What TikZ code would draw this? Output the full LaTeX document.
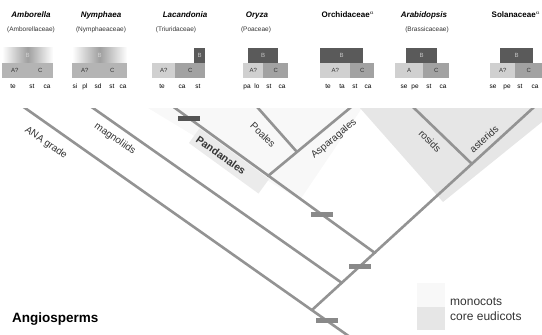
\documentclass[tikz,border=0pt]{standalone}
\usepackage{fontspec}
\setmainfont{Liberation Sans}
\setsansfont{Liberation Sans}
\usepackage{xcolor}
\definecolor{branchgray}{HTML}{939393}
\definecolor{darkbar}{HTML}{545454}
\definecolor{midbar}{HTML}{898989}
\definecolor{bclass}{HTML}{5A5A5A}
\definecolor{cclass}{HTML}{A2A2A2}
\definecolor{aclass}{HTML}{D0D0D0}
\definecolor{fuzzy}{HTML}{B4B4B4}
\definecolor{eudicot}{HTML}{E6E6E6}
\definecolor{monocot}{HTML}{F8F8F8}
\definecolor{labeltext}{HTML}{333333}
\usetikzlibrary{positioning, calc}

\begin{document}
\begin{tikzpicture}[x=1pt, y=-1pt, font=\sffamily,
  branch/.style={draw=branchgray, line width=2.6pt, line cap=round},
  synapo/.style={fill=midbar, minimum width=22pt, minimum height=5pt, inner sep=0pt},
  clade/.style={font=\fontsize{10}{12}\selectfont, text=labeltext, inner sep=0pt},
  pandabox/.style={fill=gray!16, font=\fontsize{10.5}{12}\selectfont\bfseries, text=labeltext,
                   text width=78pt, align=left, inner xsep=4pt, minimum height=18pt},
  genus/.style={font=\fontsize{8}{9}\selectfont\bfseries\itshape, anchor=base, inner sep=0pt},
  famname/.style={font=\fontsize{6.5}{8}\selectfont, anchor=base, inner sep=0pt, text=labeltext},
  whorl/.style={font=\fontsize{6.5}{7}\selectfont, anchor=base, inner sep=0pt},
  organ/.style={minimum height=15pt, inner sep=0pt, font=\fontsize{6}{7}\selectfont},
  afun/.style={organ, anchor=north west, fill=aclass, text=labeltext},
  cfun/.style={organ, anchor=north west, fill=cclass, text=labeltext},
  oldfun/.style={organ, anchor=north west, fill=fuzzy, text=labeltext},
  bfun/.style={organ, anchor=south west, fill=bclass, text=gray!45},
  oldb/.style={organ, anchor=south west, left color=white, right color=white,
               middle color=gray!75, text=gray!35},
  legend/.style={font=\fontsize{12}{14}\selectfont, text=labeltext, anchor=base west, inner sep=0pt}]

  \useasboundingbox (0,0) rectangle (542,335);

  % shaded clades
  \fill[monocot] (148,108) -- (362,108) -- (300,200) -- cycle;
  \fill[eudicot] (360,108) -- (542,108) -- (542,122) -- (443,202) -- cycle;

  % tree
  \coordinate (anaTop) at (25,108);
  \coordinate (root) at (312,310);
  \coordinate (stemEnd) at (350,337);
  \coordinate (magTop) at (93,108);
  \coordinate (magJ) at (342,283);
  \coordinate (panTop) at (175,108);
  \coordinate (monoCrown) at (268,176);
  \coordinate (monoJ) at (375,253);
  \coordinate (aspTop) at (350,108);
  \coordinate (poaTop) at (258,108);
  \coordinate (poaJ) at (297,152);
  \coordinate (rosTop) at (414,108);
  \coordinate (rosJ) at (472,164);
  \coordinate (astTop) at (533,108);

  \begin{scope}
    \clip (0,108) rectangle (542,335);
    \draw[branch, shorten <=-5pt] (anaTop) -- (stemEnd);
    \draw[branch, shorten >=-5pt] (root) -- (astTop);
    \draw[branch, shorten <=-5pt] (magTop) -- (magJ);
    \draw[branch, shorten <=-5pt] (panTop) -- (monoJ);
    \draw[branch, shorten >=-5pt] (monoCrown) -- (aspTop);
    \draw[branch, shorten <=-5pt] (poaTop) -- (poaJ);
    \draw[branch, shorten <=-5pt] (rosTop) -- (rosJ);
  \end{scope}

  % synapomorphy bars
  \node[synapo, fill=darkbar] (barPan) at ($(panTop)!0.07!(monoJ)$) {};
  \node[synapo] (barMono) at ($(panTop)!0.735!(monoJ)$) {};
  \node[synapo] (barMes) at ($(root)!0.217!(astTop)$) {};
  \node[synapo] (barAng) at ($(anaTop)!0.929!(stemEnd)$) {};

  % clade labels
  \node[clade, rotate=-35] (ana) at (46,143) {ANA grade};
  \node[clade, rotate=-35] (mag) at (115,139) {magnoliids};
  \node[pandabox, rotate=-36] (pan) at (229,161) {Pandanales};
  \node[clade, rotate=-44] (poa) at (263,135) {Poales};
  \node[clade, rotate=40] (asp) at (334,139) {Asparagales};
  \node[clade, rotate=-45] (ros) at (430,141) {rosids};
  \node[clade, rotate=42] (ast) at (484,139) {asterids};

  % taxa
  \node[genus] (amb) at (31,17) {Amborella};
  \node[famname] (ambF) at (31,31) {(Amborellaceae)};
  \node[genus] (nym) at (101,17) {Nymphaea};
  \node[famname] (nymF) at (101,31) {(Nymphaeaceae)};
  \node[genus] (lac) at (185,17) {Lacandonia};
  \node[famname] (lacF) at (176,31) {(Triuridaceae)};
  \node[genus] (ory) at (257,17) {Oryza};
  \node[famname] (oryF) at (256,31) {(Poaceae)};
  \node[genus, font=\fontsize{8}{9}\selectfont\bfseries] (orc) at (348,17) {Orchidaceae$^{a}$};
  \node[genus] (ara) at (424,17) {Arabidopsis};
  \node[famname] (araF) at (427,31) {(Brassicaceae)};
  \node[genus, font=\fontsize{8}{9}\selectfont\bfseries] (sol) at (516,17) {Solanaceae$^{a}$};

  % ABC models
  \node[oldb, minimum width=51pt] (ambB) at (2,63) {B};
  \node[oldfun, minimum width=25pt] (ambA) at (2,63) {A?};
  \node[oldfun, minimum width=26pt] (ambC) at (27,63) {C};
  \node[whorl] at (13,88) {te};
  \node[whorl] at (32,88) {st};
  \node[whorl] at (47,88) {ca};

  \node[oldb, minimum width=55pt] (nymB) at (72,63) {B};
  \node[oldfun, minimum width=25pt] (nymA) at (72,63) {A?};
  \node[oldfun, minimum width=30pt] (nymC) at (97,63) {C};
  \node[whorl] at (75,88) {si};
  \node[whorl] at (85,88) {pl};
  \node[whorl] at (98,88) {sd};
  \node[whorl] at (112,88) {st};
  \node[whorl] at (123,88) {ca};

  \node[bfun, minimum width=11pt] (lacB) at (194,63) {B};
  \node[afun, minimum width=23pt] (lacA) at (152,63) {A?};
  \node[cfun, minimum width=30pt] (lacC) at (175,63) {C};
  \node[whorl] at (162,88) {te};
  \node[whorl] at (182,88) {ca};
  \node[whorl] at (198,88) {st};

  \node[bfun, minimum width=30pt] (oryB) at (248,63) {B};
  \node[afun, minimum width=20pt] (oryA) at (243,63) {A?};
  \node[cfun, minimum width=25pt] (oryC) at (263,63) {C};
  \node[whorl] at (247,88) {pa};
  \node[whorl] at (257,88) {lo};
  \node[whorl] at (269,88) {st};
  \node[whorl] at (282,88) {ca};

  \node[bfun, minimum width=43pt] (orcB) at (320,63) {B};
  \node[afun, minimum width=30pt] (orcA) at (320,63) {A?};
  \node[cfun, minimum width=24pt] (orcC) at (350,63) {C};
  \node[whorl] at (328,88) {te};
  \node[whorl] at (342,88) {ta};
  \node[whorl] at (355,88) {st};
  \node[whorl] at (368,88) {ca};

  \node[bfun, minimum width=31pt] (araB) at (406,63) {B};
  \node[afun, minimum width=28pt] (araA) at (395,63) {A};
  \node[cfun, minimum width=26pt] (araC) at (423,63) {C};
  \node[whorl] at (404,88) {se};
  \node[whorl] at (415,88) {pe};
  \node[whorl] at (429,88) {st};
  \node[whorl] at (443,88) {ca};

  \node[bfun, minimum width=33pt] (solB) at (500,63) {B};
  \node[afun, minimum width=25pt] (solA) at (490,63) {A?};
  \node[cfun, minimum width=27pt] (solC) at (515,63) {C};
  \node[whorl] at (493,88) {se};
  \node[whorl] at (507,88) {pe};
  \node[whorl] at (520,88) {st};
  \node[whorl] at (535,88) {ca};

  % legend
  \node[font=\fontsize{13.5}{16}\selectfont\bfseries, anchor=base west, inner sep=0pt] (ang) at (12,322) {Angiosperms};
  \fill[monocot] (417,283) rectangle (445,307);
  \fill[eudicot] (417,307) rectangle (445,330);
  \node[legend] (monoKey) at (450,305) {monocots};
  \node[legend] (eudiKey) at (450,320) {core eudicots};
\end{tikzpicture}
\end{document}
